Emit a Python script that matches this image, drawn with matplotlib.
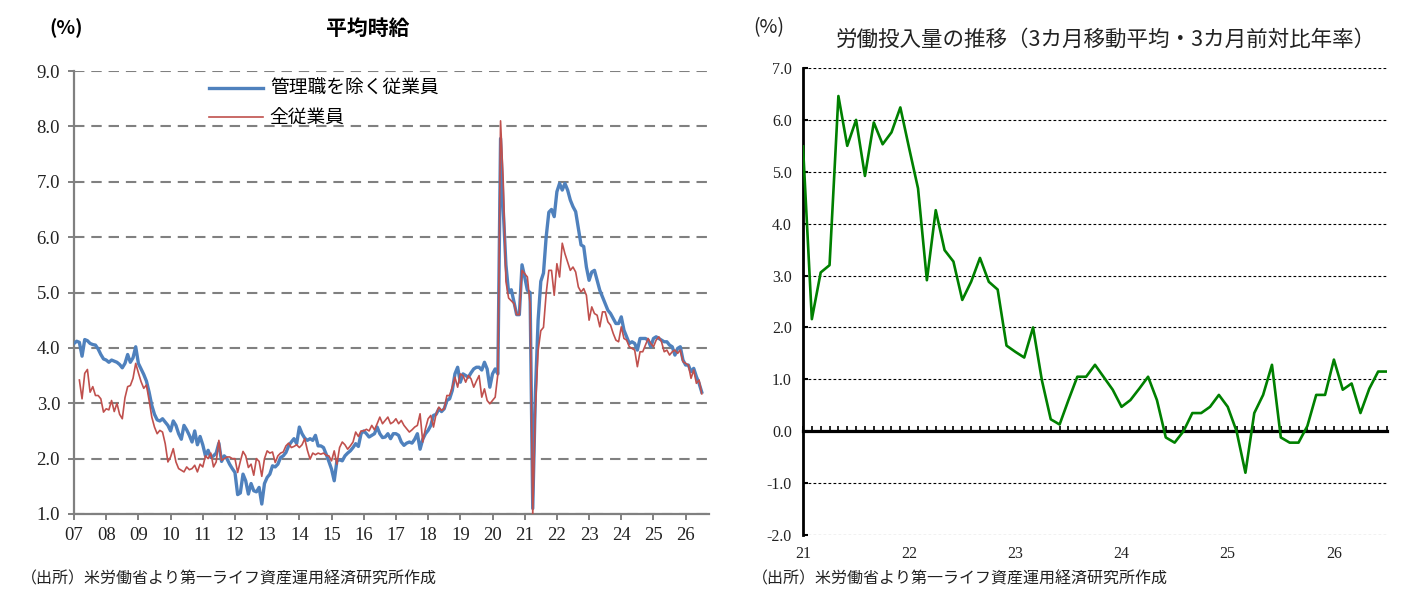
import numpy as np
import matplotlib
matplotlib.use("Agg")
import matplotlib.pyplot as plt

plt.rcParams['font.family'] = ['Liberation Serif', 'Noto Sans CJK JP']
JP = ['Noto Sans CJK JP', 'DejaVu Sans']

# 平均時給 前年比(%)  monthly, 2007-01 .. 2026-07
hourly_nonsup = [
    4.08, 4.12, 4.10, 3.85, 4.15, 4.13, 4.08, 4.06, 4.05, 3.98, 3.88, 3.80,  # 2007
    3.78, 3.74, 3.78, 3.76, 3.74, 3.70, 3.64, 3.72, 3.88, 3.74, 3.82, 4.02,  # 2008
    3.72, 3.62, 3.52, 3.40, 3.20, 2.96, 2.80, 2.70, 2.68, 2.72, 2.66, 2.60,  # 2009
    2.50, 2.68, 2.60, 2.45, 2.35, 2.60, 2.52, 2.42, 2.30, 2.50, 2.25, 2.40,  # 2010
    2.25, 2.05, 2.15, 2.02, 2.05, 2.10, 2.28, 1.95, 2.05, 2.00, 1.90, 1.82,  # 2011
    1.75, 1.35, 1.38, 1.72, 1.60, 1.36, 1.55, 1.42, 1.40, 1.48, 1.18, 1.55,  # 2012
    1.66, 1.72, 1.87, 1.85, 1.90, 2.02, 2.05, 2.11, 2.23, 2.30, 2.36, 2.27,  # 2013
    2.57, 2.45, 2.37, 2.33, 2.36, 2.33, 2.42, 2.23, 2.23, 2.20, 2.08, 1.95,  # 2014
    1.81, 1.60, 1.96, 1.98, 1.96, 2.05, 2.10, 2.14, 2.20, 2.27, 2.22, 2.45,  # 2015
    2.50, 2.45, 2.39, 2.42, 2.45, 2.57, 2.45, 2.38, 2.39, 2.45, 2.36, 2.45,  # 2016
    2.45, 2.42, 2.30, 2.24, 2.28, 2.30, 2.28, 2.35, 2.45, 2.17, 2.35, 2.45,  # 2017
    2.51, 2.60, 2.78, 2.80, 2.90, 2.85, 2.90, 3.05, 3.08, 3.23, 3.53, 3.65,  # 2018
    3.38, 3.53, 3.50, 3.47, 3.55, 3.62, 3.65, 3.65, 3.60, 3.74, 3.62, 3.29,  # 2019
    3.53, 3.62, 3.53, 7.78, 6.50, 5.50, 5.00, 5.05, 4.83, 4.60, 4.60, 5.50,  # 2020
    5.28, 5.04, 5.00, 1.10, 3.20, 4.50, 5.20, 5.35, 6.00, 6.45, 6.50, 6.37,  # 2021
    6.82, 6.97, 6.85, 6.97, 6.85, 6.67, 6.55, 6.46, 6.16, 5.86, 5.83, 5.46,  # 2022
    5.22, 5.37, 5.40, 5.22, 5.04, 4.92, 4.80, 4.68, 4.62, 4.53, 4.44, 4.44,  # 2023
    4.56, 4.32, 4.20, 4.08, 4.11, 4.08, 3.96, 4.17, 4.17, 4.17, 4.14, 4.02,  # 2024
    4.17, 4.20, 4.17, 4.14, 4.11, 4.11, 4.05, 4.02, 3.87, 3.99, 4.02, 3.78,  # 2025
    3.69, 3.69, 3.57, 3.63, 3.48, 3.36, 3.20,                                # 2026
]

# 全従業員: starts 2007-03
hourly_all_start = 2
hourly_all = [
    3.42, 3.08, 3.54, 3.61, 3.20, 3.30, 3.14, 3.14, 3.08, 2.84,              # 2007
    2.90, 2.88, 3.05, 2.85, 3.00, 2.80, 2.72, 3.10, 3.30, 3.32, 3.45, 3.72,  # 2008
    3.55, 3.39, 3.27, 3.33, 3.05, 2.75, 2.57, 2.45, 2.51, 2.48, 2.27, 1.94,  # 2009
    2.03, 2.18, 1.94, 1.82, 1.79, 1.76, 1.85, 1.80, 1.82, 1.88, 1.76, 1.90,  # 2010
    1.85, 2.05, 2.00, 2.10, 1.85, 1.94, 2.33, 1.97, 2.00, 2.03, 2.03, 2.00,  # 2011
    2.00, 1.75, 1.95, 2.13, 2.05, 1.84, 1.90, 1.70, 2.00, 1.95, 1.68, 2.00,  # 2012
    2.14, 2.10, 2.12, 1.93, 2.05, 2.10, 2.12, 2.23, 2.28, 2.20, 2.22, 2.25,  # 2013
    2.20, 2.25, 2.36, 2.15, 1.99, 2.10, 2.07, 2.10, 2.08, 2.10, 2.06, 2.05,  # 2014
    1.96, 2.14, 1.90, 2.20, 2.30, 2.25, 2.17, 2.23, 2.30, 2.48, 2.40, 2.50,  # 2015
    2.50, 2.53, 2.50, 2.60, 2.52, 2.63, 2.75, 2.63, 2.69, 2.75, 2.63, 2.66,  # 2016
    2.72, 2.63, 2.69, 2.60, 2.54, 2.48, 2.52, 2.57, 2.60, 2.81, 2.30, 2.54,  # 2017
    2.72, 2.78, 2.57, 2.81, 2.93, 2.87, 2.90, 3.14, 3.14, 3.29, 3.47, 3.29,  # 2018
    3.53, 3.50, 3.38, 3.50, 3.44, 3.29, 3.40, 3.50, 3.11, 3.26, 3.05, 2.99,  # 2019
    3.05, 3.11, 3.53, 8.10, 7.00, 5.20, 4.90, 4.85, 4.80, 4.60, 4.60, 5.40,  # 2020
    5.34, 5.28, 4.80, 1.00, 2.90, 3.95, 4.31, 4.37, 4.98, 5.40, 5.40, 4.95,  # 2021
    5.52, 5.28, 5.89, 5.70, 5.55, 5.40, 5.46, 5.37, 5.10, 5.01, 5.07, 4.95,  # 2022
    4.50, 4.74, 4.62, 4.59, 4.38, 4.65, 4.65, 4.47, 4.41, 4.26, 4.14, 4.11,  # 2023
    4.38, 4.17, 4.14, 4.02, 3.99, 3.96, 3.66, 3.93, 3.93, 4.05, 4.17, 4.08,  # 2024
    4.02, 4.14, 4.20, 4.11, 3.93, 3.96, 3.87, 3.93, 3.96, 3.90, 3.96, 3.75,  # 2025
    3.72, 3.69, 3.45, 3.60, 3.36, 3.42, 3.17,                                # 2026
]
hourly_years = ['07', '08', '09', '10', '11', '12', '13', '14', '15', '16',
                '17', '18', '19', '20', '21', '22', '23', '24', '25', '26']

# 労働投入量 (3カ月移動平均・3カ月前対比年率)  monthly, 2021-01 .. 2026-07
labor_input = [
    5.49, 2.16, 3.06, 3.20, 6.46, 5.50, 6.00, 4.92, 5.95, 5.53, 5.76, 6.24,      # 2021
    5.45, 4.68, 2.91, 4.26, 3.49, 3.27, 2.53, 2.88, 3.34, 2.88, 2.73, 1.65,      # 2022
    1.53, 1.42, 2.00, 0.98, 0.23, 0.13, 0.60, 1.05, 1.05, 1.28, 1.04, 0.80,      # 2023
    0.47, 0.60, 0.82, 1.05, 0.60, -0.12, -0.22, 0.00, 0.35, 0.35, 0.47, 0.70,    # 2024
    0.47, 0.00, -0.80, 0.35, 0.70, 1.28, -0.12, -0.22, -0.22, 0.10, 0.70, 0.70,  # 2025
    1.38, 0.80, 0.92, 0.35, 0.82, 1.15, 1.15,                                    # 2026
]
labor_years = ['21', '22', '23', '24', '25', '26']

W, H = 1414, 598
fig = plt.figure(figsize=(W / 100, H / 100), dpi=100)
fig.patch.set_facecolor('white')

# ---------- 左: 平均時給 ----------
ax1 = fig.add_axes([74 / W, 1 - 514 / H, (709 - 74) / W, (514 - 71) / H])
ax1.plot(np.arange(len(hourly_nonsup)), hourly_nonsup, color='#4F81BD', lw=2.4,
         label='管理職を除く従業員', zorder=3)
ax1.plot(np.arange(len(hourly_all)) + hourly_all_start, hourly_all, color='#C0504D',
         lw=1.2, label='全従業員', zorder=4)
ax1.set_xlim(0, 236.7)
ax1.set_ylim(1, 9)
yt = np.arange(1, 10)
ax1.set_yticks(yt, [f'{v:.1f}' for v in yt])
ax1.set_xticks(np.arange(len(hourly_years)) * 12, hourly_years)
ax1.grid(axis='y', color='#808080', lw=1.5, ls=(0, (5, 3.3)), zorder=1)
ax1.set_axisbelow(True)
for s in ['top', 'right']:
    ax1.spines[s].set_visible(False)
for s in ['left', 'bottom']:
    ax1.spines[s].set_color('#808080')
    ax1.spines[s].set_linewidth(1.6)
ax1.tick_params(axis='both', direction='out', length=4, width=1.4, color='#808080',
                labelsize=13.5, labelcolor='#222222')
ax1.tick_params(axis='y', pad=6)
ax1.tick_params(axis='x', pad=5)
ax1.legend(loc='upper left', bbox_to_anchor=((207 - 74) / 635, 0.988), frameon=False,
           prop={'family': JP, 'size': 13.5}, handlelength=2.9, handletextpad=0.35,
           labelspacing=0.45, borderaxespad=0, borderpad=0.1)

fig.text(368 / W, 1 - 28 / H, '平均時給', ha='center', va='center', fontsize=15,
         fontweight='bold', family=JP)
fig.text(66 / W, 1 - 28 / H, '(%)', ha='center', va='center', fontsize=14,
         fontweight='bold', family=JP)
fig.text(21 / W, 1 - 579 / H, '（出所）米労働省より第一ライフ資産運用経済研究所作成',
         ha='left', va='center', fontsize=11.5, family=JP, color='#222222')

# ---------- 右: 労働投入量 ----------
ax2 = fig.add_axes([803 / W, 1 - 535 / H, (1387 - 803) / W, (535 - 68) / H])
ax2.plot(np.arange(len(labor_input)), labor_input, color='#008000', lw=1.9, zorder=3)
ax2.set_xlim(0, 66)
ax2.set_ylim(-2, 7)
yt2 = np.arange(-2, 8)
ax2.set_yticks(yt2, [f'{v:.1f}' for v in yt2])
ax2.grid(axis='y', color='black', lw=0.8, ls=(0, (2.5, 2)), zorder=1)
ax2.set_axisbelow(True)
for s in ['top', 'right']:
    ax2.spines[s].set_visible(False)
ax2.spines['left'].set_linewidth(2.0)
ax2.spines['left'].set_color('black')
ax2.spines['bottom'].set_position(('data', 0))
ax2.spines['bottom'].set_linewidth(2.3)
ax2.spines['bottom'].set_color('black')
ax2.set_xticks(np.arange(len(labor_years)) * 12)
ax2.set_xticks(np.arange(0, 67), minor=True)
ax2.tick_params(axis='x', which='both', direction='in', length=3.5, width=1.2,
                labelbottom=False)
ax2.tick_params(axis='y', direction='in', length=3.5, width=1.5, labelsize=11.5,
                pad=8, labelcolor='#222222')
sec = ax2.secondary_xaxis('bottom')
sec.set_xticks(np.arange(len(labor_years)) * 12, labor_years)
sec.tick_params(length=0, pad=8, labelsize=11.5, labelcolor='#222222')
sec.spines['bottom'].set_visible(False)

fig.text(769 / W, 1 - 28 / H, '(%)', ha='center', va='center', fontsize=14,
         family=JP, color='#222222')
fig.text(1106 / W, 1 - 40 / H, '労働投入量の推移（3カ月移動平均・3カ月前対比年率）',
         ha='center', va='center', fontsize=15.5, family=JP, color='#222222')
fig.text(752 / W, 1 - 579 / H, '（出所）米労働省より第一ライフ資産運用経済研究所作成',
         ha='left', va='center', fontsize=11.5, family=JP, color='#222222')

fig.savefig('out.png', dpi=100, facecolor='white')
